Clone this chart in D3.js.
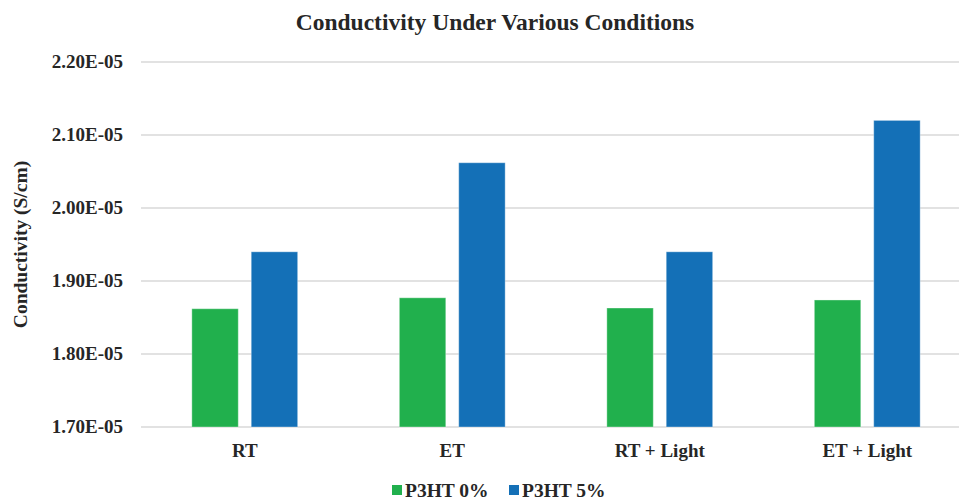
<!DOCTYPE html>
<html>
<head>
<meta charset="utf-8">
<script src="https://cdn.jsdelivr.net/npm/d3@7"></script>
<style>
  html, body { margin: 0; background: #fff; overflow: hidden; }
  svg { display: block; }
  svg text { font-family: "Liberation Serif", "Times New Roman", serif; font-weight: bold; fill: #262626; }
  .grid line { stroke: #d9d9d9; stroke-width: 1.3; }
</style>
</head>
<body>
<svg id="chart"></svg>
<script>
const categories = ['RT', 'ET', 'RT + Light', 'ET + Light'];
const seriesNames = ['P3HT 0%', 'P3HT 5%'];
const p3ht0 = [1.862e-5, 1.877e-5, 1.863e-5, 1.874e-5];
const p3ht5 = [1.940e-5, 2.062e-5, 1.940e-5, 2.120e-5];
const yTicks = [1.7e-5, 1.8e-5, 1.9e-5, 2.0e-5, 2.1e-5, 2.2e-5];
const colors = ['#21b04d', '#1470b7'];

const W = 959, H = 500;
// plot area (right side runs past the window, like the cropped original)
const plot = {left: 141, right: 971, top: 62, bottom: 427};

const svg = d3.select('#chart').attr('width', W).attr('height', H);

const rows = categories.map((c, i) => ({cat: c, values: [p3ht0[i], p3ht5[i]]}));

// scales
const scaleX = d3.scaleBand()
  .domain(categories)
  .range([plot.left, plot.right])
  .paddingInner(0.49)
  .paddingOuter(0.245);

const scaleSeries = d3.scaleBand()
  .domain(seriesNames)
  .range([0, scaleX.bandwidth()])
  .paddingInner(0.218);

const scaleY = d3.scaleLinear()
  .domain([1.7e-5, 2.2e-5])
  .range([plot.bottom, plot.top]);

// gridlines
svg.append('g')
  .attr('class', 'grid')
  .selectAll('line')
  .data(yTicks)
  .enter()
  .append('line')
  .attr('x1', plot.left)
  .attr('x2', W)
  .attr('y1', d => scaleY(d))
  .attr('y2', d => scaleY(d));

// y tick labels
svg.append('g')
  .selectAll('text')
  .data(yTicks)
  .enter()
  .append('text')
  .attr('x', 123)
  .attr('y', d => scaleY(d))
  .attr('dy', '0.33em')
  .attr('text-anchor', 'end')
  .style('font-size', '19px')
  .text(d => (d / 1e-5).toFixed(2) + 'E-05');

// bars
const groups = svg.selectAll('.group')
  .data(rows)
  .enter()
  .append('g')
  .attr('class', 'group')
  .attr('transform', d => 'translate(' + scaleX(d.cat) + ',0)');

groups.selectAll('rect')
  .data(d => d.values.map((v, i) => ({name: seriesNames[i], value: v, i: i})))
  .enter()
  .append('rect')
  .attr('x', d => scaleSeries(d.name))
  .attr('y', d => scaleY(d.value))
  .attr('width', scaleSeries.bandwidth())
  .attr('height', d => plot.bottom - scaleY(d.value))
  .attr('fill', d => colors[d.i])
  .attr('stroke', 'rgba(255,255,255,0.35)')
  .attr('stroke-width', 1);

// x labels
svg.append('g')
  .selectAll('text')
  .data(categories)
  .enter()
  .append('text')
  .attr('x', d => scaleX(d) + scaleX.bandwidth() / 2)
  .attr('y', 457)
  .attr('text-anchor', 'middle')
  .style('font-size', '19px')
  .text(d => d);

// title
svg.append('text')
  .attr('x', 495)
  .attr('y', 30)
  .attr('text-anchor', 'middle')
  .style('font-size', '23.5px')
  .text('Conductivity Under Various Conditions');

// y axis title
svg.append('text')
  .attr('transform', 'translate(27,' + ((plot.top + plot.bottom) / 2) + ') rotate(-90)')
  .attr('text-anchor', 'middle')
  .style('font-size', '19.5px')
  .text('Conductivity (S/cm)');

// legend
const legendX = [392, 509];
const legend = svg.selectAll('.legend')
  .data(seriesNames)
  .enter()
  .append('g')
  .attr('class', 'legend')
  .attr('transform', (d, i) => 'translate(' + legendX[i] + ',485)');

legend.append('rect')
  .attr('width', 10)
  .attr('height', 10)
  .attr('fill', (d, i) => colors[i]);

legend.append('text')
  .attr('x', 13)
  .attr('y', 12)
  .style('font-size', '19.5px')
  .text(d => d);
</script>
</body>
</html>
